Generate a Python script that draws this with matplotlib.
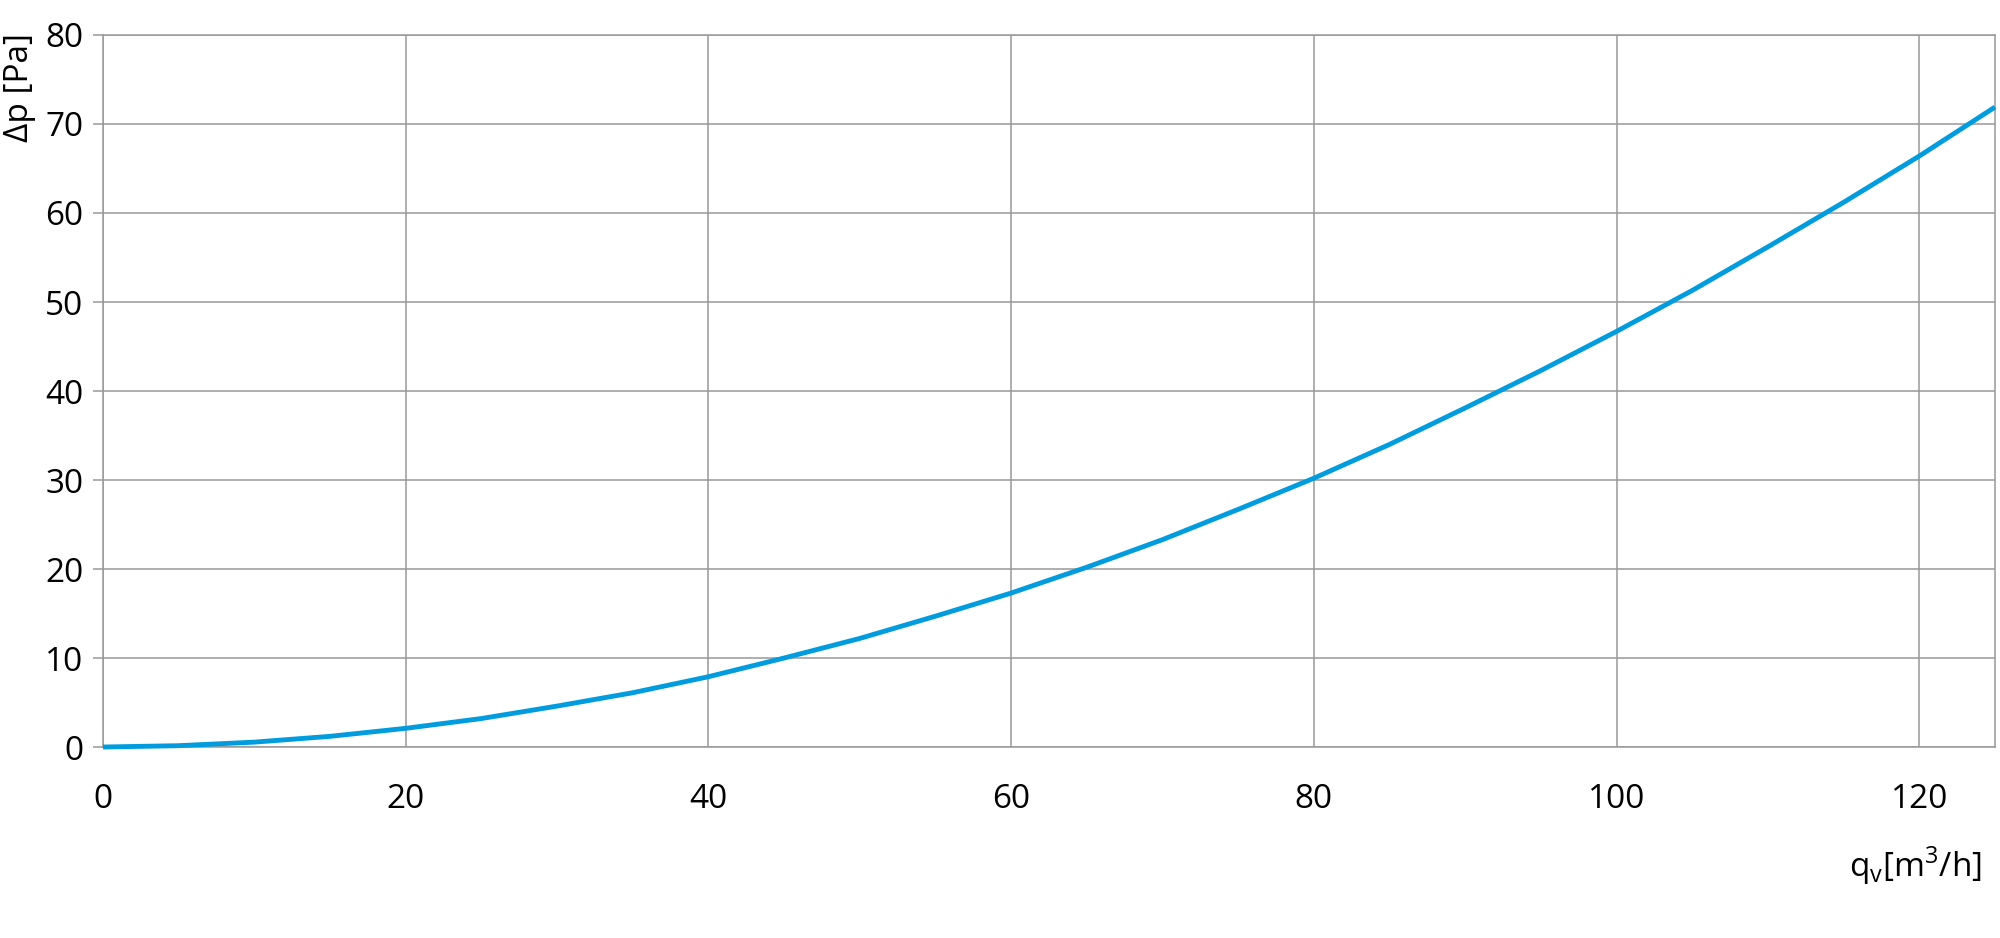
import matplotlib.pyplot as plt

plt.rcParams['font.family'] = ['Open Sans', 'DejaVu Sans']

# flow rate q_v [m3/h] and pressure drop dp [Pa]
flow = [0, 5, 10, 15, 20, 25, 30, 35, 40, 45, 50, 55, 60, 65, 70, 75, 80,
        85, 90, 95, 100, 105, 110, 115, 120, 125]
dp = [0, 0.15, 0.55, 1.2, 2.1, 3.2, 4.6, 6.1, 7.9, 10.0, 12.2, 14.7, 17.3,
      20.2, 23.3, 26.7, 30.2, 34.0, 38.1, 42.3, 46.7, 51.3, 56.2, 61.2,
      66.4, 71.9]

x_ticks = [0, 20, 40, 60, 80, 100, 120]
y_ticks = [0, 10, 20, 30, 40, 50, 60, 70, 80]

grid_col = '#999999'
curve_col = '#009cde'

fig = plt.figure(figsize=(20, 9.38), dpi=100)
ax = fig.add_axes([0.0515, 0.2036, 0.946, 0.7591])

ax.plot(flow, dp, color=curve_col, lw=3.5, clip_on=False,
        solid_capstyle='butt', solid_joinstyle='round', zorder=3)

ax.set_xlim(0, 125)
ax.set_ylim(0, 80)
ax.set_xticks(x_ticks)
ax.set_yticks(y_ticks)
ax.grid(True, color=grid_col, lw=1.1)
ax.set_axisbelow(True)
for s in ax.spines.values():
    s.set_color(grid_col)
    s.set_linewidth(1.1)

ax.tick_params(axis='y', length=7.2, width=1.1, color=grid_col, pad=7,
               labelsize=24)
ax.tick_params(axis='x', length=0, pad=26, labelsize=24)

fig.text(19 / 2000, 1 - 88 / 938, 'Δp [Pa]', rotation=90, fontsize=24,
         ha='center', va='center')
fig.text(1982 / 2000, 1 - 877 / 938, 'q$_\\mathregular{v}$[m$^\\mathregular{3}$/h]',
         fontsize=24, ha='right', va='baseline')

fig.savefig('out.png', dpi=100)
